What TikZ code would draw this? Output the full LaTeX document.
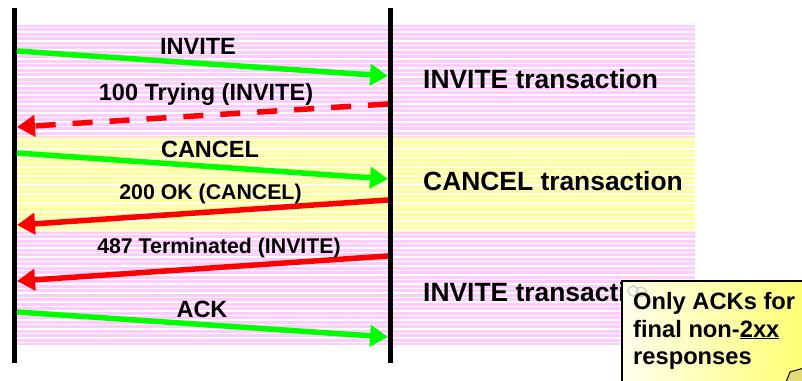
\documentclass[tikz,border=0pt]{standalone}
\usepackage{fontspec}
\setmainfont{Liberation Sans}
\usetikzlibrary{arrows.meta}
\definecolor{bandpink}{RGB}{255,204,255}
\definecolor{bandyellow}{RGB}{255,255,153}
\definecolor{sipgreen}{RGB}{0,255,0}
\definecolor{sipred}{RGB}{255,0,0}
\definecolor{notelight}{RGB}{255,255,238}
\definecolor{notedark}{RGB}{255,255,110}
\definecolor{folddark}{RGB}{225,220,120}
\tikzset{
  lifeline/.style={line width=5pt, black},
  msg/.style={line width=5.5pt, -{Triangle[length=18pt,width=21pt]}},
  req/.style={msg, sipgreen},
  resp/.style={msg, sipred},
  lbl/.style={anchor=base, inner sep=0pt, font=\fontsize{23.5}{28}\selectfont\bfseries},
  lblsmall/.style={lbl, font=\fontsize{21.3}{26}\selectfont\bfseries},
  txn/.style={anchor=base west, inner sep=0pt, font=\fontsize{26.4}{30}\selectfont\bfseries},
  notetxt/.style={anchor=base west, inner sep=0pt, font=\fontsize{23.7}{28}\selectfont\bfseries},
}
\begin{document}
\begin{tikzpicture}[x=1pt,y=-1pt]
\useasboundingbox (0,0) rectangle (802,380);
% bands
\fill[bandpink] (17,25) rectangle (695,137);
\fill[bandyellow] (17,137) rectangle (695,232);
\fill[bandpink] (17,232) rectangle (695,345);
\foreach \yy in {27.5,32,...,345} \draw[white, line width=1.2pt] (17,\yy) -- (695,\yy);
% lifelines
\coordinate (Ltop) at (14.5,8);
\coordinate (Lbot) at (14.5,363);
\coordinate (Rtop) at (390.5,8);
\coordinate (Rbot) at (390.5,363);
\draw[lifeline] (Ltop) -- (Lbot);
\draw[lifeline] (Rtop) -- (Rbot);
% message end points
\coordinate (a1) at (17,51);   \coordinate (b1) at (388,76);
\coordinate (a2) at (388,104); \coordinate (b2) at (17,127);
\coordinate (a3) at (17,153);  \coordinate (b3) at (388,179);
\coordinate (a4) at (388,200); \coordinate (b4) at (17,225);
\coordinate (a5) at (388,256); \coordinate (b5) at (17,281);
\coordinate (a6) at (17,312);  \coordinate (b6) at (388,337);
\draw[req] (a1) -- (b1);
\draw[resp, dash pattern=on 20pt off 17pt] (a2) -- (b2);
\draw[req] (a3) -- (b3);
\draw[resp] (a4) -- (b4);
\draw[resp] (a5) -- (b5);
\draw[req] (a6) -- (b6);
% labels
\node[lbl] (t1) at (198,54) {INVITE};
\node[lbl] (t2) at (206,100.5) {100 Trying (INVITE)};
\node[lbl] (t3) at (210,157.5) {CANCEL};
\node[lblsmall] (t4) at (210.5,199) {200 OK (CANCEL)};
\node[lblsmall] (t5) at (219,253) {487 Terminated (INVITE)};
\node[lbl] (t6) at (202,317.5) {ACK};
% transactions
\node[txn] (x1) at (423,88) {INVITE transaction};
\node[txn] (x2) at (423,190) {CANCEL transaction};
\node[txn] (x3) at (423,301) {INVITE transaction};
% note
\shade[left color=notelight, right color=notedark, draw=black, line width=1.5pt]
  (622,281) rectangle (812,392);
\draw[gray!35, line width=1.5pt] (633,291) circle (5pt) (641,292) circle (5pt);
\filldraw[fill=folddark, draw=black, line width=1pt] (786,382) -- (790,372) -- (804,368) -- (804,382) -- cycle;
\node[notetxt] (n1) at (633,309) {Only ACKs for};
\node[notetxt] (n2) at (633,337) {final non-\underline{2xx}};
\node[notetxt] (n3) at (633,364) {responses};
\end{tikzpicture}
\end{document}
